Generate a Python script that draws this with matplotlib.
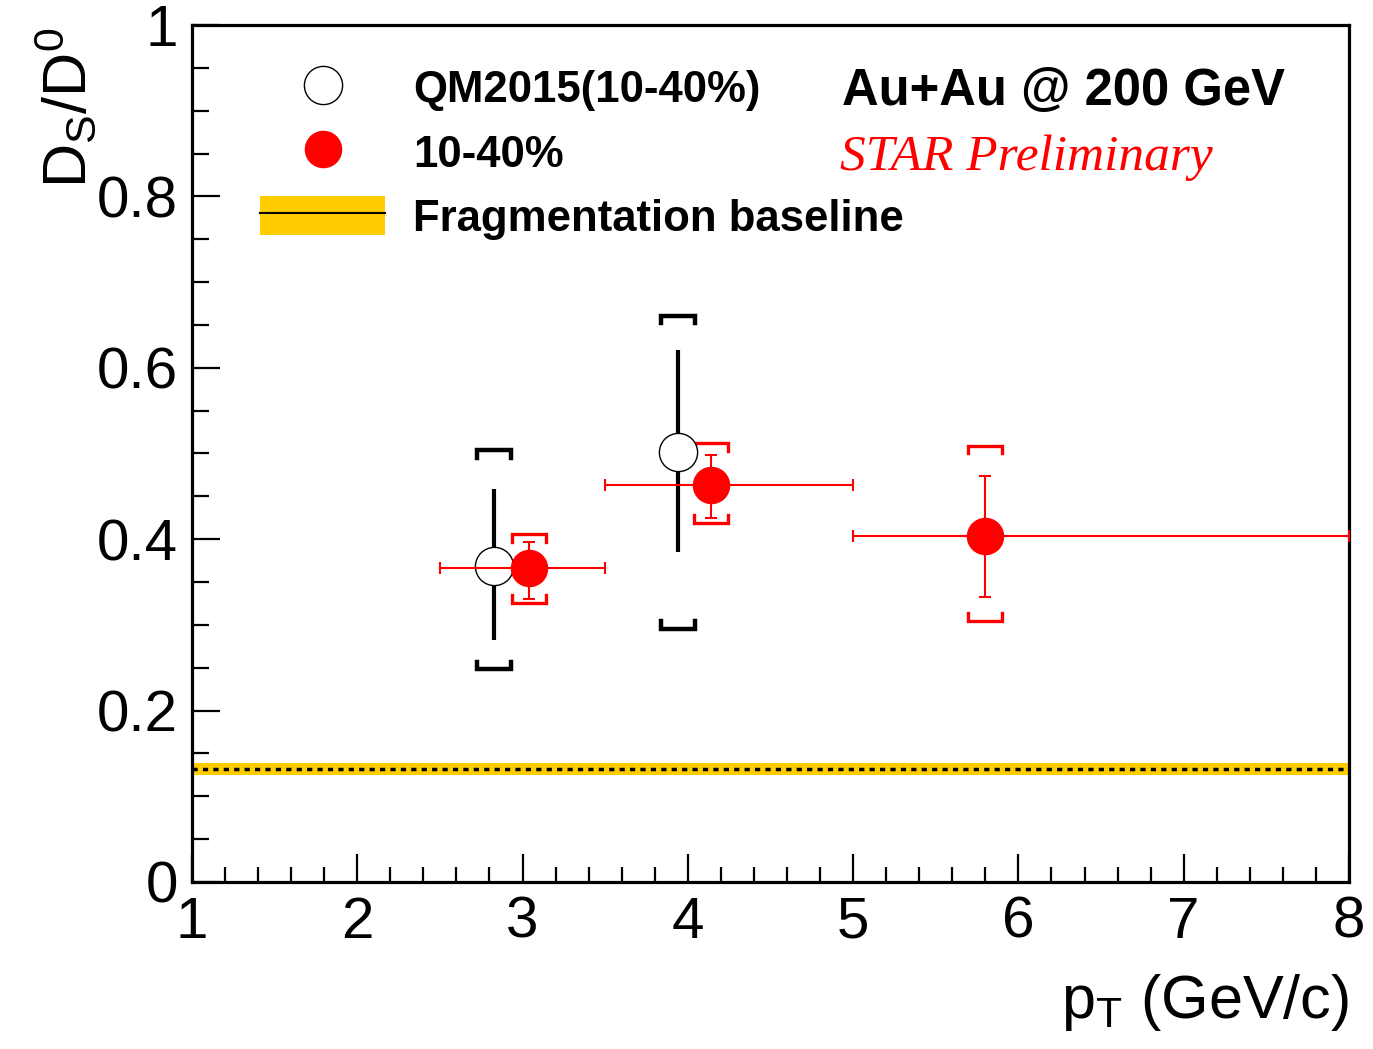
import matplotlib
matplotlib.use("Agg")
import matplotlib.pyplot as plt
from matplotlib.lines import Line2D
from matplotlib.patches import Patch
from matplotlib.ticker import MultipleLocator

plt.rcParams['font.family'] = ['Liberation Sans', 'DejaVu Sans']
plt.rcParams['mathtext.fontset'] = 'custom'
plt.rcParams['mathtext.rm'] = 'Liberation Sans'
plt.rcParams['mathtext.it'] = 'Liberation Sans:italic'

# QM2015 (10-40%), open black circles
qm_pt = [2.83, 3.94]
qm_val = [0.369, 0.502]
qm_stat_lo = [0.087, 0.117]
qm_stat_hi = [0.089, 0.119]
qm_sys_lo = [0.121, 0.207]
qm_sys_hi = [0.135, 0.159]

# new 10-40%, red filled circles
new_pt = [3.04, 4.14, 5.80]
new_xlo = [0.54, 0.64, 0.80]
new_xhi = [0.46, 0.86, 2.20]
new_val = [0.366, 0.463, 0.404]
new_stat_lo = [0.036, 0.038, 0.071]
new_stat_hi = [0.031, 0.035, 0.070]
new_sys_lo = [0.040, 0.044, 0.099]
new_sys_hi = [0.040, 0.049, 0.105]

# fragmentation baseline
frag_val = 0.132
frag_err = 0.007

yticks = [0, 0.2, 0.4, 0.6, 0.8, 1.0]
ytick_labels = ['0', '0.2', '0.4', '0.6', '0.8', '1']


def brackets(ax, xs, ys, lo, hi, color, lw, hw=0.103, tick=0.009):
    # systematic error "[ ]" brackets drawn above and below each point
    for x, y, l, h in zip(xs, ys, lo, hi):
        top = y + h
        bot = y - l
        ax.plot([x - hw, x - hw, x + hw, x + hw], [top - tick, top, top, top - tick],
                color=color, lw=lw, solid_joinstyle='miter', zorder=4)
        ax.plot([x - hw, x - hw, x + hw, x + hw], [bot + tick, bot, bot, bot + tick],
                color=color, lw=lw, solid_joinstyle='miter', zorder=4)


fig = plt.figure(figsize=(13.73, 10.49), dpi=100)
ax = fig.add_axes([0.1398, 0.1592, 0.8427, 0.8170])

ax.set_xlim(1, 8)
ax.set_ylim(0, 1)

# fragmentation baseline band + dotted line
ax.axhspan(frag_val - frag_err, frag_val + frag_err, color='#ffcc00', lw=0, zorder=1)
ax.axhline(frag_val, color='black', lw=2.5, ls=(0, (1.5, 1.5)), zorder=2)

# QM2015
ax.errorbar(qm_pt, qm_val, yerr=[qm_stat_lo, qm_stat_hi], fmt='none',
            ecolor='black', elinewidth=3.0, capsize=0, zorder=3)
brackets(ax, qm_pt, qm_val, qm_sys_lo, qm_sys_hi, 'black', 3.2)
ax.plot(qm_pt, qm_val, 'o', ms=27.5, mfc='white', mec='black', mew=1.0, zorder=5)

# new data
ax.errorbar(new_pt, new_val, xerr=[new_xlo, new_xhi], yerr=[new_stat_lo, new_stat_hi],
            fmt='none', ecolor='red', elinewidth=1.5, capsize=4.5, capthick=1.5, zorder=6)
brackets(ax, new_pt, new_val, new_sys_lo, new_sys_hi, 'red', 2.4)
ax.plot(new_pt, new_val, 'o', ms=26, color='red', mec='red', zorder=7)

# axes style
for side in ['left', 'bottom', 'top', 'right']:
    ax.spines[side].set_linewidth(2.3)
ax.xaxis.set_major_locator(MultipleLocator(1))
ax.xaxis.set_minor_locator(MultipleLocator(0.2))
ax.set_yticks(yticks)
ax.set_yticklabels(ytick_labels)
ax.yaxis.set_minor_locator(MultipleLocator(0.05))
ax.tick_params(which='both', direction='in', top=False, right=False, width=1.6)
ax.tick_params(which='major', length=20, labelsize=42)
ax.tick_params(which='minor', length=11)
ax.tick_params(axis='x', which='major', pad=10)
ax.tick_params(axis='y', which='major', pad=10)
ax.tick_params(axis='y', which='minor', length=12)

ax.set_xlabel(r'$\mathregular{p_{T}}$ (GeV/c)', fontsize=44, loc='right')
ax.xaxis.set_label_coords(1.0, -0.105)
ax.set_ylabel(r'$\mathregular{D_{S}/D^{0}}$', fontsize=44, loc='top')
ax.yaxis.set_label_coords(-0.08, 0.997)

# legend
handles = [
    Line2D([], [], ls='none', marker='o', ms=27.5, mfc='white', mec='black', mew=1.0),
    Line2D([], [], ls='none', marker='o', ms=26, color='red'),
    (Patch(facecolor='#ffcc00', edgecolor='none'), Line2D([], [], color='black', lw=1.5)),
]
labels = ['QM2015(10-40%)', '10-40%', 'Fragmentation baseline']
ax.legend(handles, labels, loc='upper left', bbox_to_anchor=(0.0588, 0.950),
          frameon=False, borderpad=0, borderaxespad=0, handlelength=2.86,
          handleheight=1.0, handletextpad=0.64, labelspacing=0.47,
          prop={'weight': 'bold', 'size': 31.5})

ax.text(0.562, 0.9067, 'Au+Au @ 200 GeV', transform=ax.transAxes,
        fontsize=36.5, fontweight='bold', ha='left', va='baseline')
ax.text(0.5605, 0.831, 'STAR Preliminary', transform=ax.transAxes,
        fontsize=37, color='red', style='italic', family='Liberation Serif',
        ha='left', va='baseline')

fig.savefig('out.png', dpi=100)
